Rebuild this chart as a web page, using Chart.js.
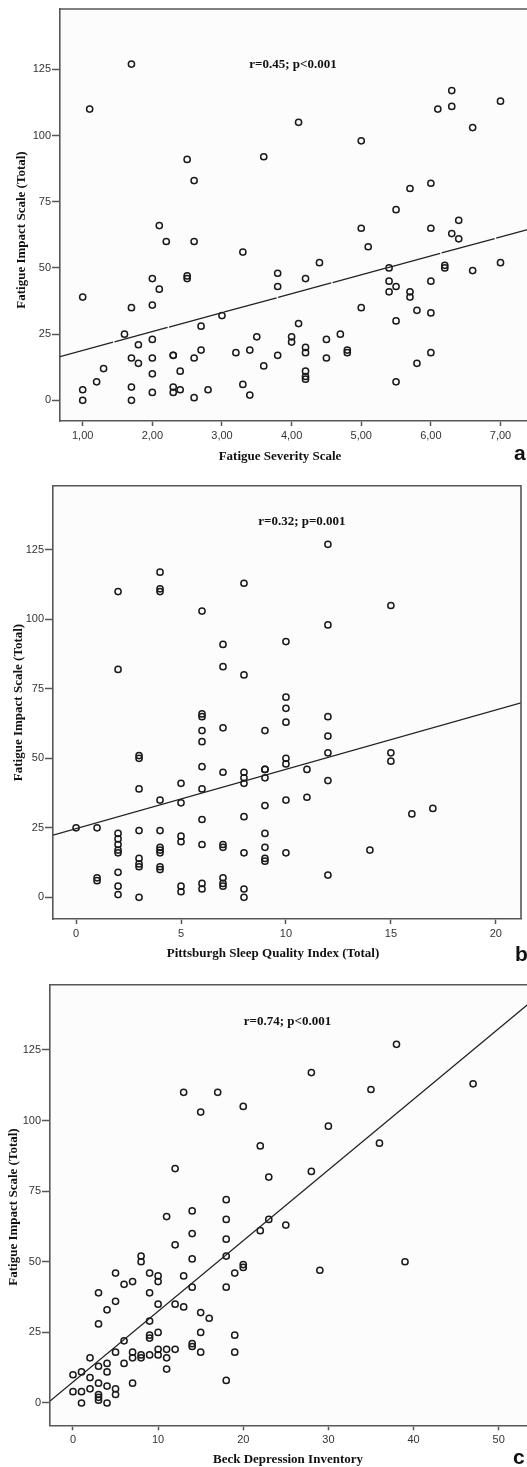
<!DOCTYPE html>
<html lang="en">
  <head>
    <meta charset="UTF-8" />
    <title>fatigue scatter</title>
    <script src="https://cdn.jsdelivr.net/npm/chart.js@4"></script>
    <style>
      html, body { margin: 0; padding: 0; background: #fff; overflow: hidden; width: 527px; height: 1467px; }
      canvas { position: absolute; left: 0; }
      #chartA { top: 0px; }
      #chartB { top: 470px; }
      #chartC { top: 960px; }
    </style>
  </head>
  <body>
    <canvas id="chartA" width="545" height="470"></canvas>
    <canvas id="chartB" width="527" height="496"></canvas>
    <canvas id="chartC" width="545" height="507"></canvas>

    <script>
      // panel a - Fatigue Severity Scale vs FIS
      const fssX = [1.7,1.1,6.3,6.1,6.3,7.0,6.6,4.1,5.0,2.5,3.6,2.6,6.0,5.7,5.5,6.4,5.0,6.0,6.3,6.4,
        2.1,2.2,2.6,5.1,3.3,4.4,7.0,5.4,6.2,6.2,6.6,3.8,3.8,4.2,2.5,2.5,2.0,2.1,1.0,2.0,
        1.7,5.4,5.4,5.5,5.7,5.7,6.0,5.0,5.8,6.0,5.5,3.0,4.1,2.7,1.6,4.7,3.5,4.0,4.0,4.5,
        2.0,1.8,4.2,4.2,2.7,3.4,4.8,4.8,3.2,6.0,2.3,2.3,3.8,1.7,2.0,2.6,4.5,1.8,5.8,3.6,
        1.3,2.4,2.0,4.2,4.2,4.2,1.2,5.5,3.3,1.7,2.3,2.3,1.0,2.4,2.8,2.0,3.4,2.6,1.0,1.7];
      const fisA = [127,110,117,110,111,113,103,105,98,91,92,83,82,80,72,68,65,65,63,61,
        66,60,60,58,56,52,52,50,51,50,49,48,43,46,47,46,46,42,39,36,
        35,45,41,43,41,39,45,35,34,33,30,32,29,28,25,25,24,24,22,23,
        23,21,20,18,19,19,19,18,18,18,17,17,17,16,16,16,16,14,14,13,
        12,11,10,11,9,8,7,7,6,5,5,3,4,4,4,3,2,1,0,0];
      const fitAX = [0.674, 7.56];
      const fitAY = [16.5, 65.7];
      const xTicksA = [1, 2, 3, 4, 5, 6, 7];

      // panel b - PSQI vs FIS
      const psqiX = [12,4,4,4,2,8,15,6,12,7,10,2,7,8,10,10,6,6,12,7,
        6,9,10,12,6,12,15,15,3,3,10,10,6,7,8,8,8,9,9,9,
        11,12,5,3,6,4,5,10,11,9,17,16,8,6,0,1,3,4,2,2,
        2,2,2,5,5,9,6,7,7,4,4,4,9,14,8,10,3,3,3,9,
        9,4,4,2,12,1,1,7,7,7,2,2,5,5,6,6,8,8,3];
      const fisB = [127,117,111,110,110,113,105,103,98,91,92,82,83,80,72,68,66,65,65,61,
        60,60,63,58,56,52,52,49,51,50,50,48,47,45,45,43,41,46,46,43,
        46,42,41,39,39,35,34,35,36,33,32,30,29,28,25,25,24,24,23,21,
        19,17,16,22,20,23,19,19,18,18,17,16,18,17,16,16,14,12,11,14,
        13,11,10,9,8,7,6,7,5,4,4,1,4,2,5,3,3,0,0];
      const fitBX = [-1.1, 21.2];
      const fitBY = [22.4, 70.0];
      const xTicksB = [0, 5, 10, 15, 20];

      // panel c - BDI vs FIS
      const bdiX = [38,28,13,17,35,47,15,20,30,22,36,12,23,28,18,14,11,18,23,25,
        22,14,18,12,18,8,8,14,39,20,20,29,5,9,10,10,13,19,7,6,
        14,18,3,9,5,4,10,12,13,15,16,9,3,10,15,19,9,9,6,14,
        14,10,11,12,5,7,15,19,8,8,9,10,7,11,2,6,4,3,11,1,
        4,0,2,18,3,7,4,2,5,0,1,3,3,3,5,1,4];
      const fisC = [127,117,110,110,111,113,103,105,98,91,92,83,80,82,72,68,66,65,65,63,
        61,60,58,56,52,52,50,51,50,49,48,47,46,46,45,43,45,46,43,42,
        41,41,39,39,36,33,35,35,34,32,30,29,28,25,25,24,24,23,22,21,
        20,19,19,19,18,18,18,18,17,16,17,17,16,16,16,14,14,13,12,11,
        11,10,9,8,7,7,6,5,5,4,4,3,2,1,3,0,0];
      const fitCX = [-2.7, 54.8];
      const fitCY = [0.7, 144.5];
      const xTicksC = [0, 10, 20, 30, 40, 50];

      const yTicks = [0, 25, 50, 75, 100, 125];

      const frameColor = "#575757";
      const tickFont = { family: "Liberation Sans", size: 11 };
      const serifBold = "bold 13px 'Liberation Serif'";

      function toPoints(xs, ys) {
        return xs.map((x, i) => ({ x: x, y: ys[i] }));
      }

      // box, titles, r/p note and panel letter
      const framePlugin = {
        id: "frame",
        beforeDraw(chart) {
          const a = chart.chartArea;
          const ctx = chart.ctx;
          ctx.save();
          ctx.fillStyle = "#fcfcfc";
          ctx.fillRect(a.left, a.top, a.right - a.left, a.bottom - a.top);
          ctx.restore();
        },
        afterDraw(chart, args, o) {
          const a = chart.chartArea;
          const ctx = chart.ctx;
          ctx.save();
          ctx.strokeStyle = frameColor;
          ctx.lineWidth = 1.6;
          ctx.beginPath();
          ctx.moveTo(a.left, a.top);
          ctx.lineTo(a.right, a.top);
          ctx.lineTo(a.right, a.bottom);
          ctx.stroke();

          ctx.fillStyle = "#111";
          ctx.font = serifBold;
          ctx.textAlign = "center";
          ctx.textBaseline = "middle";
          const nx = chart.scales.x.getPixelForValue(o.noteAt[0]);
          const ny = chart.scales.y.getPixelForValue(o.noteAt[1]);
          ctx.fillText(o.note, nx, ny);

          ctx.fillText(o.xTitle, o.xTitlePos[0], o.xTitlePos[1]);

          ctx.save();
          ctx.translate(o.yTitlePos[0], o.yTitlePos[1]);
          ctx.rotate(-Math.PI / 2);
          ctx.fillText("Fatigue Impact Scale (Total)", 0, 0);
          ctx.restore();

          ctx.font = "bold 21px 'Liberation Sans'";
          ctx.textAlign = "left";
          ctx.textBaseline = "alphabetic";
          ctx.fillText(o.letter, o.letterPos[0], o.letterPos[1]);
          ctx.restore();
        },
      };

      function makeConfig(p) {
        return {
          type: "scatter",
          data: {
            datasets: [
              {
                data: toPoints(p.fitX, p.fitY),
                showLine: true,
                borderColor: "#222",
                borderWidth: 1.3,
                borderDash: p.dash || [],
                pointRadius: 0,
                fill: false,
              },
              {
                data: toPoints(p.xs, p.ys),
                pointStyle: "circle",
                pointRadius: 3.1,
                pointBorderWidth: 1.5,
                pointBorderColor: "#1a1a1a",
                pointBackgroundColor: "rgba(0,0,0,0)",
                showLine: false,
              },
            ],
          },
          options: {
            responsive: false,
            animation: false,
            layout: { padding: { top: p.top, right: p.right, left: 0, bottom: 0 } },
            plugins: {
              legend: { display: false },
              tooltip: { enabled: false },
              frame: p.frame,
            },
            scales: {
              x: {
                type: "linear",
                min: p.xMin,
                max: p.xMax,
                afterFit(scale) { scale.height = p.xAxisH; },
                afterBuildTicks(scale) { scale.ticks = p.xTicks.map((v) => ({ value: v })); },
                ticks: {
                  font: tickFont,
                  color: "#333",
                  padding: 3,
                  maxRotation: 0,
                  callback: p.xFmt,
                },
                grid: { drawOnChartArea: false, drawTicks: true, tickLength: 5, tickColor: frameColor, tickWidth: 1.5 },
                border: { display: true, color: frameColor, width: 1.6 },
              },
              y: {
                type: "linear",
                min: p.yMin,
                max: p.yMax,
                afterFit(scale) { scale.width = p.yAxisW; },
                afterBuildTicks(scale) { scale.ticks = yTicks.map((v) => ({ value: v })); },
                ticks: { font: tickFont, color: "#333", padding: 1 },
                grid: { drawOnChartArea: false, drawTicks: true, tickLength: 8, tickColor: frameColor, tickWidth: 1.5 },
                border: { display: true, color: frameColor, width: 1.6 },
              },
            },
          },
          plugins: [framePlugin],
        };
      }

      const chartA = new Chart(document.getElementById("chartA"), makeConfig({
        xs: fssX, ys: fisA, fitX: fitAX, fitY: fitAY, dash: [55, 1.5],
        xTicks: xTicksA,
        xFmt: (v) => v.toFixed(2).replace(".", ","),
        xMin: 0.674, xMax: 7.56, yMin: -7.8, yMax: 147.8,
        top: 9, right: 5, xAxisH: 49, yAxisW: 60,
        frame: {
          note: "r=0.45; p<0.001", noteAt: [4.02, 126.6],
          xTitle: "Fatigue Severity Scale", xTitlePos: [280, 457],
          yTitlePos: [21.7, 230],
          letter: "a", letterPos: [514, 460],
        },
      }));

      const chartB = new Chart(document.getElementById("chartB"), makeConfig({
        xs: psqiX, ys: fisB, fitX: fitBX, fitY: fitBY,
        xTicks: xTicksB,
        xFmt: (v) => String(v),
        xMin: -1.1, xMax: 21.2, yMin: -7.8, yMax: 148.1,
        top: 15.7, right: 6, xAxisH: 47, yAxisW: 53,
        frame: {
          note: "r=0.32; p=0.001", noteAt: [10.76, 135.1],
          xTitle: "Pittsburgh Sleep Quality Index (Total)", xTitlePos: [273, 484],
          yTitlePos: [18.3, 232.5],
          letter: "b", letterPos: [515, 491],
        },
      }));

      const chartC = new Chart(document.getElementById("chartC"), makeConfig({
        xs: bdiX, ys: fisC, fitX: fitCX, fitY: fitCY,
        xTicks: xTicksC,
        xFmt: (v) => String(v),
        xMin: -2.7, xMax: 54.8, yMin: -7.9, yMax: 148.1,
        top: 24.7, right: 5, xAxisH: 41.7, yAxisW: 50,
        frame: {
          note: "r=0.74; p<0.001", noteAt: [25.2, 135],
          xTitle: "Beck Depression Inventory", xTitlePos: [288, 500],
          yTitlePos: [14, 247],
          letter: "c", letterPos: [513, 504],
        },
      }));
    </script>
  </body>
</html>
